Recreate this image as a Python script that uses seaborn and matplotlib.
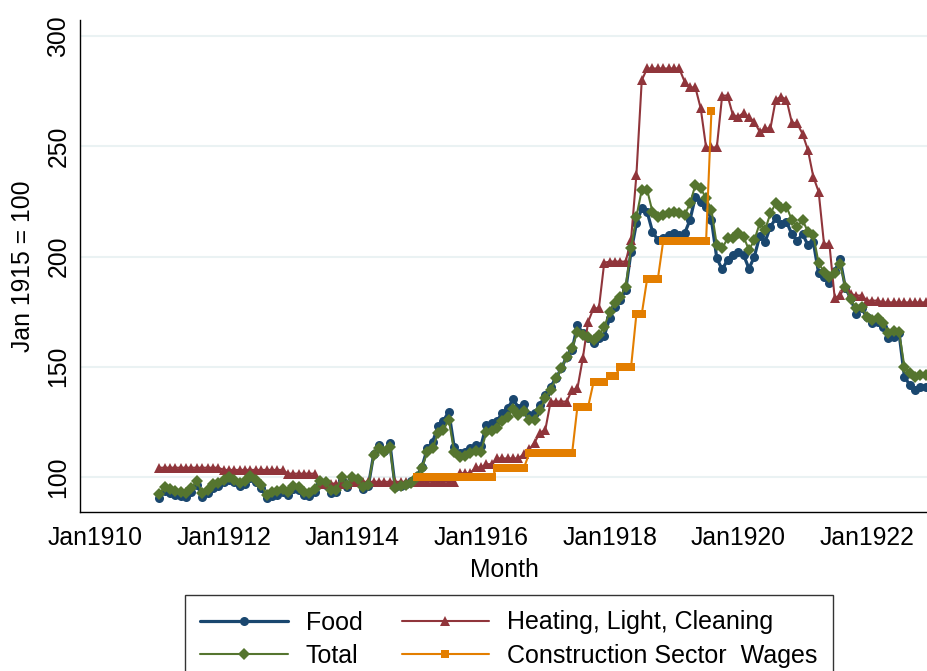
#!/usr/bin/env python3
"""Price indices vs construction wages, 1911-1922 (Jan 1915 = 100)."""

import numpy as np
import pandas as pd
import matplotlib
matplotlib.use("Agg")
import matplotlib.pyplot as plt
import seaborn as sns

# months counted from Jan 1910; data run Jan 1911 .. Dec 1922
months = np.arange(12, 156)

# Food index, one row per year 1911..1922
food = [
    90.5, 93.5, 92.5, 92.0, 91.5, 91.0, 93.0, 96.5, 91.0, 92.5, 95.0, 96.0,
    97.5, 98.5, 97.5, 96.0, 97.0, 99.5, 97.5, 95.0, 90.5, 91.5, 92.0, 93.0,
    92.0, 94.5, 94.0, 92.0, 91.2, 93.0, 97.0, 96.5, 92.8, 93.0, 98.5, 95.5,
    99.5, 98.5, 94.5, 96.0, 110.5, 114.5, 112.0, 115.5, 95.3, 96.0, 97.0, 98.0,
    100.5, 104.5, 113.0, 116.0, 123.0, 125.5, 129.6, 113.7, 110.7, 111.5, 113.0, 114.5,
    114.0, 123.6, 124.3, 125.5, 129.0, 131.2, 135.2, 131.5, 133.1, 128.3, 128.9, 132.7,
    137.2, 141.0, 144.8, 149.3, 154.6, 157.6, 168.9, 165.2, 163.0, 160.6, 162.9, 164.0,
    172.0, 177.2, 180.3, 184.8, 202.2, 215.0, 221.8, 220.3, 211.3, 207.5, 208.2, 209.8,
    210.5, 209.8, 210.5, 216.6, 227.1, 224.9, 222.6, 216.6, 199.2, 194.2, 198.4, 200.7,
    202.2, 200.7, 194.5, 199.9, 209.3, 206.7, 213.5, 217.3, 214.7, 215.8, 210.2, 207.2,
    210.2, 205.2, 206.7, 192.4, 190.5, 188.1, 193.5, 198.7, 185.6, 181.0, 173.9, 176.5,
    172.4, 169.7, 170.4, 167.9, 162.9, 163.6, 165.2, 145.5, 141.7, 139.5, 141.0, 141.0,
]

# Heating, light, cleaning index
heating = [
    104.2, 104.2, 104.2, 104.2, 104.2, 104.2, 104.2, 104.2, 104.2, 104.2, 104.2, 104.2,
    103.2, 103.2, 103.2, 103.2, 103.2, 103.2, 103.2, 103.2, 103.2, 103.2, 103.2, 103.2,
    101.5, 101.5, 101.5, 101.5, 101.5, 101.5, 97.0, 97.0, 97.0, 97.0, 97.0, 97.0,
    97.8, 97.8, 97.8, 97.8, 97.8, 97.8, 97.8, 97.8, 97.8, 97.8, 97.8, 97.8,
    97.9, 97.9, 97.9, 97.9, 97.9, 97.9, 97.9, 97.9, 101.7, 101.7, 101.7, 104.3,
    104.3, 105.8, 105.8, 108.4, 108.4, 108.4, 108.4, 108.4, 110.4, 112.5, 115.6, 120.1,
    121.3, 134.2, 134.2, 134.2, 134.2, 139.5, 140.2, 153.8, 170.4, 176.5, 176.5, 197.2,
    197.7, 197.7, 197.7, 197.7, 207.5, 237.0, 280.0, 285.3, 285.3, 285.3, 285.3, 285.3,
    285.3, 285.3, 279.3, 276.7, 276.7, 267.2, 249.5, 249.5, 249.5, 273.0, 273.0, 264.2,
    263.4, 265.2, 263.1, 261.2, 256.6, 258.1, 258.1, 271.2, 272.5, 271.2, 260.8, 260.4,
    255.6, 248.3, 236.2, 229.4, 205.7, 205.8, 181.0, 182.5, 186.5, 183.0, 182.3, 182.3,
    180.0, 180.0, 180.0, 179.2, 179.2, 179.2, 179.2, 179.2, 179.2, 179.2, 179.2, 179.2,
]

# Total index
total = [
    92.1, 95.6, 94.4, 93.8, 93.3, 92.6, 95.0, 98.3, 92.6, 94.1, 96.8, 97.4,
    98.6, 99.9, 98.6, 97.1, 98.3, 100.5, 98.6, 96.4, 91.8, 93.0, 93.5, 94.5,
    93.3, 95.9, 95.3, 93.3, 92.6, 94.4, 98.2, 97.9, 94.1, 94.1, 99.9, 96.4,
    99.9, 99.0, 95.3, 96.4, 110.0, 113.0, 111.5, 113.7, 94.9, 96.0, 96.4, 97.1,
    100.0, 104.0, 111.5, 113.0, 120.0, 121.3, 126.0, 111.5, 108.9, 109.5, 110.7, 111.9,
    111.5, 120.2, 121.0, 122.4, 125.5, 127.3, 131.0, 128.0, 129.8, 125.9, 126.0, 130.4,
    135.7, 139.5, 144.8, 149.3, 154.6, 158.4, 165.9, 164.4, 163.4, 162.1, 164.4, 168.0,
    175.0, 178.8, 181.8, 186.3, 203.7, 218.1, 230.2, 230.2, 220.3, 218.1, 218.8, 219.6,
    220.3, 219.6, 218.8, 224.1, 232.4, 230.9, 226.4, 221.1, 205.2, 203.7, 208.2, 208.2,
    210.5, 209.0, 202.9, 207.5, 215.0, 212.0, 219.6, 224.1, 221.9, 222.6, 216.6, 213.5,
    216.6, 211.2, 209.8, 196.9, 193.1, 190.8, 192.5, 196.6, 186.3, 180.6, 176.5, 177.3,
    172.7, 171.2, 171.9, 169.7, 165.2, 166.4, 165.9, 150.0, 147.0, 145.5, 146.2, 146.2,
]

# Construction sector wages, Jan 1915 .. Aug 1919
wage_months = np.arange(60, 116)
wages = [
    100, 100, 100, 100, 100, 100, 100, 100, 100, 100, 100, 100,
    100, 100, 100, 104, 104, 104, 104, 104, 104, 110.7, 110.7, 110.7,
    110.7, 110.7, 110.7, 110.7, 110.7, 110.7, 131.9, 131.9, 131.9, 142.9, 142.9, 142.9,
    145.9, 145.9, 149.7, 149.7, 149.7, 173.9, 173.9, 189.8, 189.8, 189.8, 207, 207,
    207, 207, 207, 207, 207, 207, 207, 266.1,
]

df = pd.DataFrame({"month": months, "food": food, "heating": heating, "total": total})
df_w = pd.DataFrame({"month": wage_months, "wages": wages})

# Stata-like colours
NAVY = "#1a476f"
MAROON = "#90353b"
GREEN = "#55752f"
ORANGE = "#e37e00"

sns.set_style("white")
plt.rcParams["font.family"] = ["Liberation Sans", "DejaVu Sans"]
plt.rcParams["font.size"] = 17.8
for key in ["text.color", "axes.labelcolor", "xtick.color", "ytick.color"]:
    plt.rcParams[key] = "black"

fig = plt.figure(figsize=(9.28, 6.71), dpi=100)
ax = fig.add_axes([80 / 928, 159 / 671, 848 / 928, 492 / 671])

common = dict(ax=ax, markeredgewidth=0, clip_on=False)
sns.lineplot(data=df, x="month", y="food", color=NAVY, linewidth=2.3,
             marker="o", markersize=6.5, label="Food", **common)
sns.lineplot(data=df, x="month", y="heating", color=MAROON, linewidth=1.5,
             marker="^", markersize=7, label="Heating, Light, Cleaning", **common)
sns.lineplot(data=df, x="month", y="total", color=GREEN, linewidth=1.5,
             marker="D", markersize=5.8, label="Total", **common)
sns.lineplot(data=df_w, x="month", y="wages", color=ORANGE, linewidth=1.5,
             marker="s", markersize=6.3, label="Construction Sector  Wages", **common)

# axes ranges: x from ~Oct 1909 to the right edge, y 84..307
ax.set_xlim(-2.8, 155.4)
ax.set_ylim(84.1, 307.3)

xt = np.arange(0, 145, 24)
ax.set_xticks(xt)
ax.set_xticklabels([f"Jan{1910 + m // 12}" for m in xt])
ax.set_yticks(np.arange(100, 301, 50))
ax.set_yticklabels([str(v) for v in range(100, 301, 50)], rotation=90, va="center")

ax.grid(axis="y", color="#eaf2f3", linewidth=1.5)
ax.grid(axis="x", visible=False)
ax.set_axisbelow(True)
for s in ["top", "right"]:
    ax.spines[s].set_visible(False)
for s in ["left", "bottom"]:
    ax.spines[s].set_color("black")
    ax.spines[s].set_linewidth(1.0)
ax.tick_params(axis="both", direction="out", length=6, width=1.0, color="black")
ax.tick_params(axis="x", pad=4)
ax.tick_params(axis="y", pad=1)

ax.set_xlabel("Month", labelpad=6)
ax.set_ylabel("Jan 1915 = 100", labelpad=8)

# legend below the plot, two columns, box cut by the figure edge
handles, labels = ax.get_legend_handles_labels()
ax.get_legend().remove()
order = [0, 2, 1, 3]
leg = fig.legend([handles[i] for i in order], [labels[i] for i in order],
                 loc="upper left", bbox_to_anchor=(185 / 928, 1 - 595 / 671),
                 ncol=2, frameon=True, fancybox=False, edgecolor="black",
                 fontsize=18.0, handlelength=3.5, handletextpad=0.72,
                 columnspacing=1.55, labelspacing=0.38, borderpad=0.62,
                 borderaxespad=0)
leg.get_frame().set_linewidth(1.0)

fig.savefig("out.png", dpi=100)
